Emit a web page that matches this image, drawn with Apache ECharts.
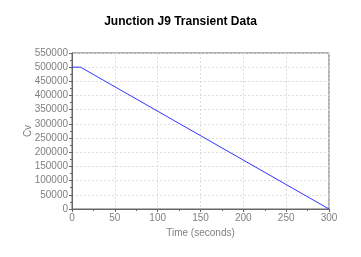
<!DOCTYPE html>
<html><head><meta charset="utf-8">
<script src="https://cdn.jsdelivr.net/npm/echarts@6/dist/echarts.min.js"></script>
<style>html,body{margin:0;padding:0;background:#fff}#c{width:361px;height:257px}</style>
</head><body><div id="c"></div>
<script>
var timeValues = [0, 10, 300];
var cvValues = [500000, 500000, 0];
var title = 'Junction J9 Transient Data';
var chart = echarts.init(document.getElementById('c'));
var data = timeValues.map(function(t, i){ return [t, cvValues[i]]; });
var labelStyle = {color: '#808080', fontFamily: 'Liberation Sans, Arial, sans-serif', fontSize: 10};
chart.setOption({
  animation: false,
  title: {text: title, left: 'center', top: 11, textStyle: {fontFamily: 'Liberation Sans, Arial, sans-serif', fontSize: 12, fontWeight: 'bold', color: '#000'}},
  grid: {left: 72, right: 32, top: 53, bottom: 48, show: true, borderColor: '#666', borderWidth: 1},
  xAxis: {type: 'value', min: 0, max: 300, interval: 50, name: 'Time (seconds)', nameLocation: 'middle', nameGap: 19,
    nameTextStyle: labelStyle, nameMoveOverlap: false,
    axisLine: {lineStyle: {color: '#666'}}, axisTick: {show: true, length: 3, lineStyle: {color: '#666'}},
    minorTick: {show: true, splitNumber: 2, length: 2, lineStyle: {color: '#666'}},
    axisLabel: Object.assign({margin: 4, formatter: function(v){ return String(v); }}, labelStyle),
    splitLine: {show: true, lineStyle: {color: '#dcdcdc', type: [2, 2]}}},
  yAxis: {type: 'value', min: 0, max: 550000, interval: 50000, name: 'Cv', nameLocation: 'middle', nameGap: 39,
    nameTextStyle: labelStyle, nameMoveOverlap: false,
    axisLine: {show: true, lineStyle: {color: '#666'}}, axisTick: {show: true, length: 3, lineStyle: {color: '#666'}},
    minorTick: {show: true, splitNumber: 2, length: 2, lineStyle: {color: '#666'}},
    axisLabel: Object.assign({margin: 4, formatter: function(v){ return String(v); }}, labelStyle),
    splitLine: {show: true, lineStyle: {color: '#dcdcdc', type: [2, 2]}}},
  series: [{type: 'line', data: data, symbol: 'none', lineStyle: {color: '#3333ff', width: 1}}]
});
</script></body></html>
